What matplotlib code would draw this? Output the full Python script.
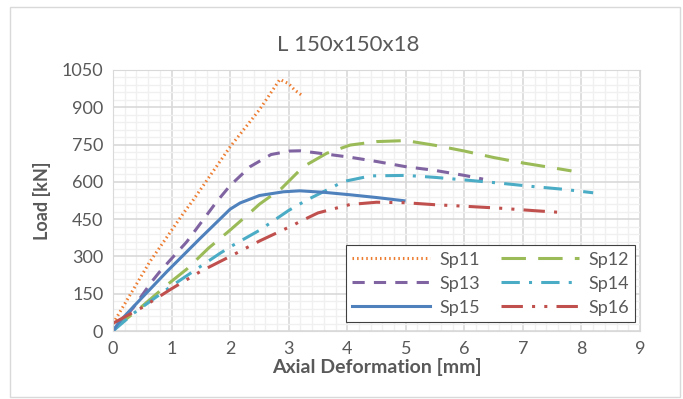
import numpy as np
import matplotlib.pyplot as plt
from matplotlib.patches import Rectangle
from matplotlib.ticker import MultipleLocator

plt.rcParams['font.family'] = ['Lato', 'DejaVu Sans']

# Sp11 .. Sp16 load-deformation curves
sp11_x = [0, 0.63, 1.2, 1.37, 2.0, 2.5, 2.85, 3.0, 3.1, 3.22]
sp11_y = [30, 279, 473, 527, 741, 890, 1012, 995, 970, 949]

sp12_x = [0, 0.06, 0.5, 0.92, 1.26, 1.63, 2.0, 2.34, 2.5, 2.88, 3.25, 3.65, 4.05, 4.5, 5.0, 5.5, 6.0, 6.5, 7.0, 7.5, 7.83]
sp12_y = [0, 17, 100, 185, 249, 333, 406, 476, 510, 574, 661, 715, 748, 762, 766, 747, 724, 698, 676, 657, 644]

sp13_x = [0, 0.35, 0.66, 0.8, 1.26, 1.77, 2.0, 2.34, 2.7, 3.02, 3.19, 3.6, 4.05, 4.5, 5.0, 5.5, 6.0, 6.32]
sp13_y = [0, 95, 198, 239, 359, 520, 585, 661, 710, 724, 725, 713, 699, 682, 661, 646, 626, 611]

sp14_x = [0, 0.35, 1.0, 1.49, 1.83, 2.05, 2.5, 3.0, 3.31, 3.76, 3.93, 4.4, 5.0, 5.5, 6.04, 6.6, 7.18, 7.7, 8.2]
sp14_y = [0, 71, 181, 259, 313, 345, 405, 485, 527, 580, 601, 624, 626, 618, 607, 595, 581, 570, 556]

sp15_x = [0, 0.1, 0.35, 0.92, 1.49, 2.0, 2.17, 2.5, 2.91, 3.19, 3.6, 4.05, 4.5, 4.97]
sp15_y = [0, 35, 98, 239, 373, 490, 515, 545, 560, 564, 558, 548, 537, 524]

sp16_x = [0, 0.5, 1.0, 1.49, 2.0, 2.51, 3.08, 3.19, 3.5, 4.05, 4.5, 5.0, 5.5, 6.0, 6.61, 7.2, 7.72]
sp16_y = [31, 95, 170, 239, 300, 363, 426, 440, 475, 509, 518, 516, 508, 502, 494, 484, 476]

fig = plt.figure(figsize=(6.83, 3.99), dpi=100)
ax = fig.add_axes([113/683, 1-331/399, (640-113)/683, (331-70)/399])

lw = 2.2
h11, = ax.plot(sp11_x, sp11_y, color='#ed7d31', lw=lw, linestyle=(0, (0.5, 1.0)), label='Sp11')
h12, = ax.plot(sp12_x, sp12_y, color='#9bbb59', lw=lw, linestyle=(0, (8, 4)), label='Sp12')
h13, = ax.plot(sp13_x, sp13_y, color='#8064a2', lw=lw, linestyle=(0, (4, 3)), label='Sp13')
h14, = ax.plot(sp14_x, sp14_y, color='#4bacc6', lw=lw, linestyle=(0, (6, 3, 1, 3)), label='Sp14')
h15, = ax.plot(sp15_x, sp15_y, color='#4f81bd', lw=lw, linestyle='-', label='Sp15')
h16, = ax.plot(sp16_x, sp16_y, color='#c0504d', lw=lw, linestyle=(0, (7, 3, 1, 3, 1, 3)), label='Sp16')

ax.set_xlim(0, 9)
ax.set_ylim(0, 1050)
ax.xaxis.set_major_locator(MultipleLocator(1))
ax.xaxis.set_minor_locator(MultipleLocator(0.2))
ax.yaxis.set_major_locator(MultipleLocator(150))
ax.yaxis.set_minor_locator(MultipleLocator(30))
ax.grid(which='minor', color='#f0f0f0', lw=1.0)
ax.grid(which='major', color='#d9d9d9', lw=1.2)
ax.set_axisbelow(True)
for s in ax.spines.values():
    s.set_color('#d9d9d9')
ax.tick_params(which='both', length=0, labelsize=13, colors='#595959', pad=7)

# title is centred on the whole chart, not on the plot area
fig.text(348/683, 1-45/399, 'L 150x150x18', fontsize=16, color='#595959', ha='center', va='center')
ax.set_xlabel('Axial Deformation [mm]', fontsize=14, fontweight='bold', color='#595959', labelpad=1)
ax.set_ylabel('Load [kN]', fontsize=13, fontweight='bold', color='#595959', labelpad=8)

# Excel fills the legend row by row
handles = [h11, h13, h15, h12, h14, h16]
leg = ax.legend(handles=handles, labels=[h.get_label() for h in handles], ncol=2,
                loc='lower right', bbox_to_anchor=(0.9905, 0.034), borderaxespad=0, fontsize=13,
                frameon=True, fancybox=False, handlelength=4.3, columnspacing=1.2,
                borderpad=0.35, labelspacing=0.45, handletextpad=0.5)
leg.get_frame().set_edgecolor('#404040')
leg.get_frame().set_linewidth(0.8)
leg.get_frame().set_alpha(1)
for t in leg.get_texts():
    t.set_color('#595959')

fig.patches.append(Rectangle((10/683, 2/399), 670/683, 390/399, transform=fig.transFigure,
                             fill=False, edgecolor='#d9d9d9', lw=1))

fig.savefig('out.png', dpi=100)
